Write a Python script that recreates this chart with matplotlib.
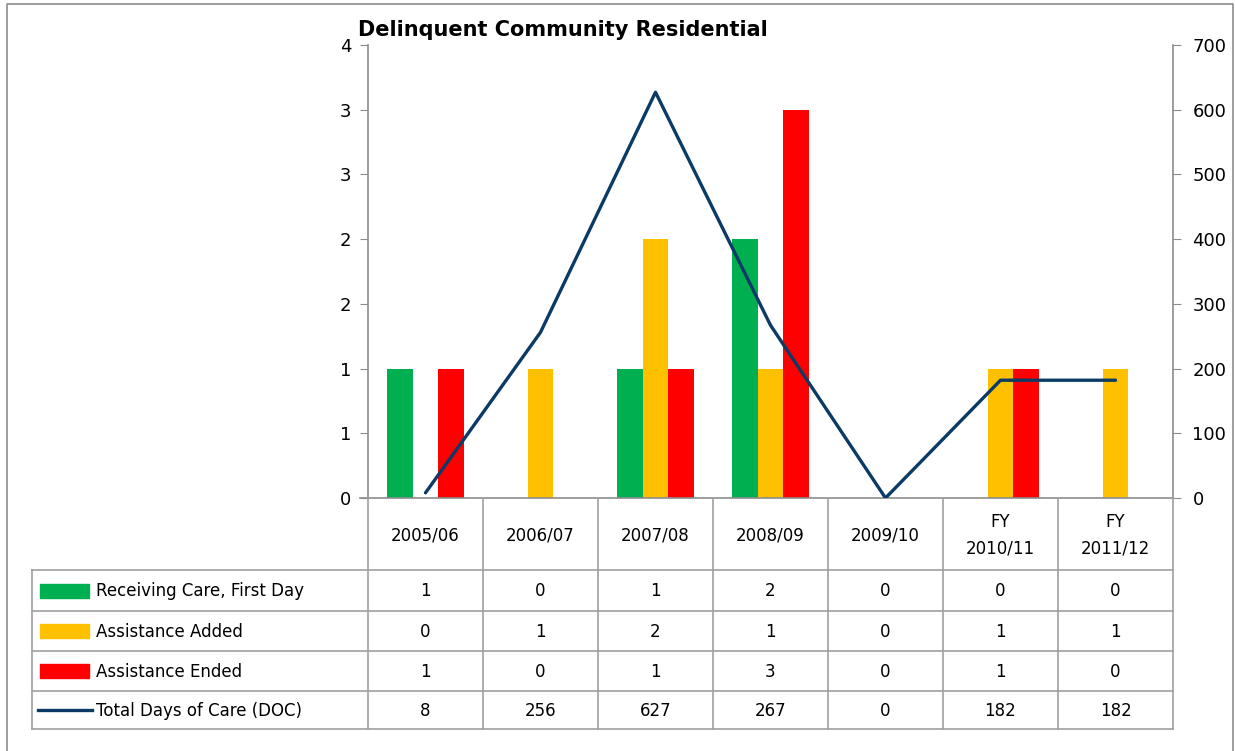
import numpy as np
import matplotlib
matplotlib.use("Agg")
import matplotlib.pyplot as plt
from matplotlib.patches import Rectangle
from matplotlib.lines import Line2D
from matplotlib.ticker import FuncFormatter, MultipleLocator

# ---- data ----
categories = ["2005/06", "2006/07", "2007/08", "2008/09", "2009/10", "FY\n2010/11", "FY\n2011/12"]
receiving_care = [1, 0, 1, 2, 0, 0, 0]
assistance_added = [0, 1, 2, 1, 0, 1, 1]
assistance_ended = [1, 0, 1, 3, 0, 1, 0]
total_doc = [8, 256, 627, 267, 0, 182, 182]
series_names = ["Receiving Care, First Day", "Assistance Added", "Assistance Ended", "Total Days of Care (DOC)"]
title = "Delinquent Community Residential"

GREEN = "#00B050"
ORANGE = "#FFC000"
RED = "#FF0000"
NAVY = "#0B3A66"
GRID = "#A0A0A0"
AXC = "#8C8C8C"
FONT = "DejaVu Sans"

W, H = 1235, 751
fig = plt.figure(figsize=(W / 100, H / 100), dpi=100)
plt.rcParams["font.family"] = FONT

# plot area in pixels
L, R, T, B = 368, 1173, 45, 498
ax = fig.add_axes([L / W, 1 - B / H, (R - L) / W, (B - T) / H])
n = len(categories)
x = np.arange(n)
bw = 0.226
ax.bar(x - bw, receiving_care, bw, color=GREEN, zorder=2)
ax.bar(x, assistance_added, bw, color=ORANGE, zorder=2)
ax.bar(x + bw, assistance_ended, bw, color=RED, zorder=2)
ax.set_xlim(-0.5, n - 0.5)
ax.set_ylim(0, 3.5)
ax.yaxis.set_major_locator(MultipleLocator(0.5))
ax.yaxis.set_major_formatter(FuncFormatter(lambda v, p: f"{int(np.floor(v + 0.5 + 1e-9))}"))
ax.set_xticks([])
for s in ["top", "right"]:
    ax.spines[s].set_visible(False)
for s in ["left", "bottom"]:
    ax.spines[s].set_color(AXC)
    ax.spines[s].set_linewidth(1.2)
ax.tick_params(axis="y", direction="out", length=6, color=AXC, labelsize=13, pad=6, labelcolor="black")

ax2 = ax.twinx()
ax2.plot(x, total_doc, color=NAVY, lw=2.4, solid_capstyle="round", zorder=3)
ax2.set_ylim(0, 700)
ax2.yaxis.set_major_locator(MultipleLocator(100))
for s in ["top", "left", "bottom"]:
    ax2.spines[s].set_visible(False)
ax2.spines["right"].set_color(AXC)
ax2.spines["right"].set_linewidth(1.2)
ax2.tick_params(axis="y", direction="out", length=6, color=AXC, labelsize=13, pad=8, labelcolor="black")
ax.patch.set_visible(False)

# title
fig.text(358 / W, 1 - 30 / H, title, fontsize=15, fontweight="bold", ha="left", va="center")

# overlay axes for table in pixel coords
ov = fig.add_axes([0, 0, 1, 1])
ov.set_xlim(0, W)
ov.set_ylim(H, 0)
ov.axis("off")
ov.patch.set_visible(False)

# figure border
ov.add_line(Line2D([7, 7, 1233, 1233], [760, 4, 4, 760], color=AXC, lw=1.2))

col_edges = [L + i * (R - L) / n for i in range(n + 1)]
row_edges = [570, 611, 651, 691, 729]
lab_left = 32
# x-axis extension tick
ov.add_line(Line2D([360, L], [B, B], color=AXC, lw=1.2))
for cx in col_edges:
    ov.add_line(Line2D([cx, cx], [B, row_edges[-1]], color=GRID, lw=1.2))
for ry in row_edges:
    ov.add_line(Line2D([lab_left, R], [ry, ry], color=GRID, lw=1.2))
ov.add_line(Line2D([lab_left, lab_left], [row_edges[0], row_edges[-1]], color=GRID, lw=1.2))

centers = [(col_edges[i] + col_edges[i + 1]) / 2 for i in range(n)]
for i, c in enumerate(categories):
    ov.text(centers[i], (B + row_edges[0]) / 2 + 1, c, ha="center", va="center",
            fontsize=12, linespacing=1.6)

rows = [receiving_care, assistance_added, assistance_ended, total_doc]
colors = [GREEN, ORANGE, RED, NAVY]
for r in range(4):
    yc = (row_edges[r] + row_edges[r + 1]) / 2
    if r < 3:
        ov.add_patch(Rectangle((40, yc - 7), 49, 14, color=colors[r]))
    else:
        ov.add_line(Line2D([38, 92], [yc, yc], color=NAVY, lw=2.4))
    ov.text(96, yc + 1, series_names[r], ha="left", va="center", fontsize=12)
    for i in range(n):
        ov.text(centers[i], yc + 1, str(rows[r][i]), ha="center", va="center", fontsize=12)

fig.savefig("out.png", dpi=100)
